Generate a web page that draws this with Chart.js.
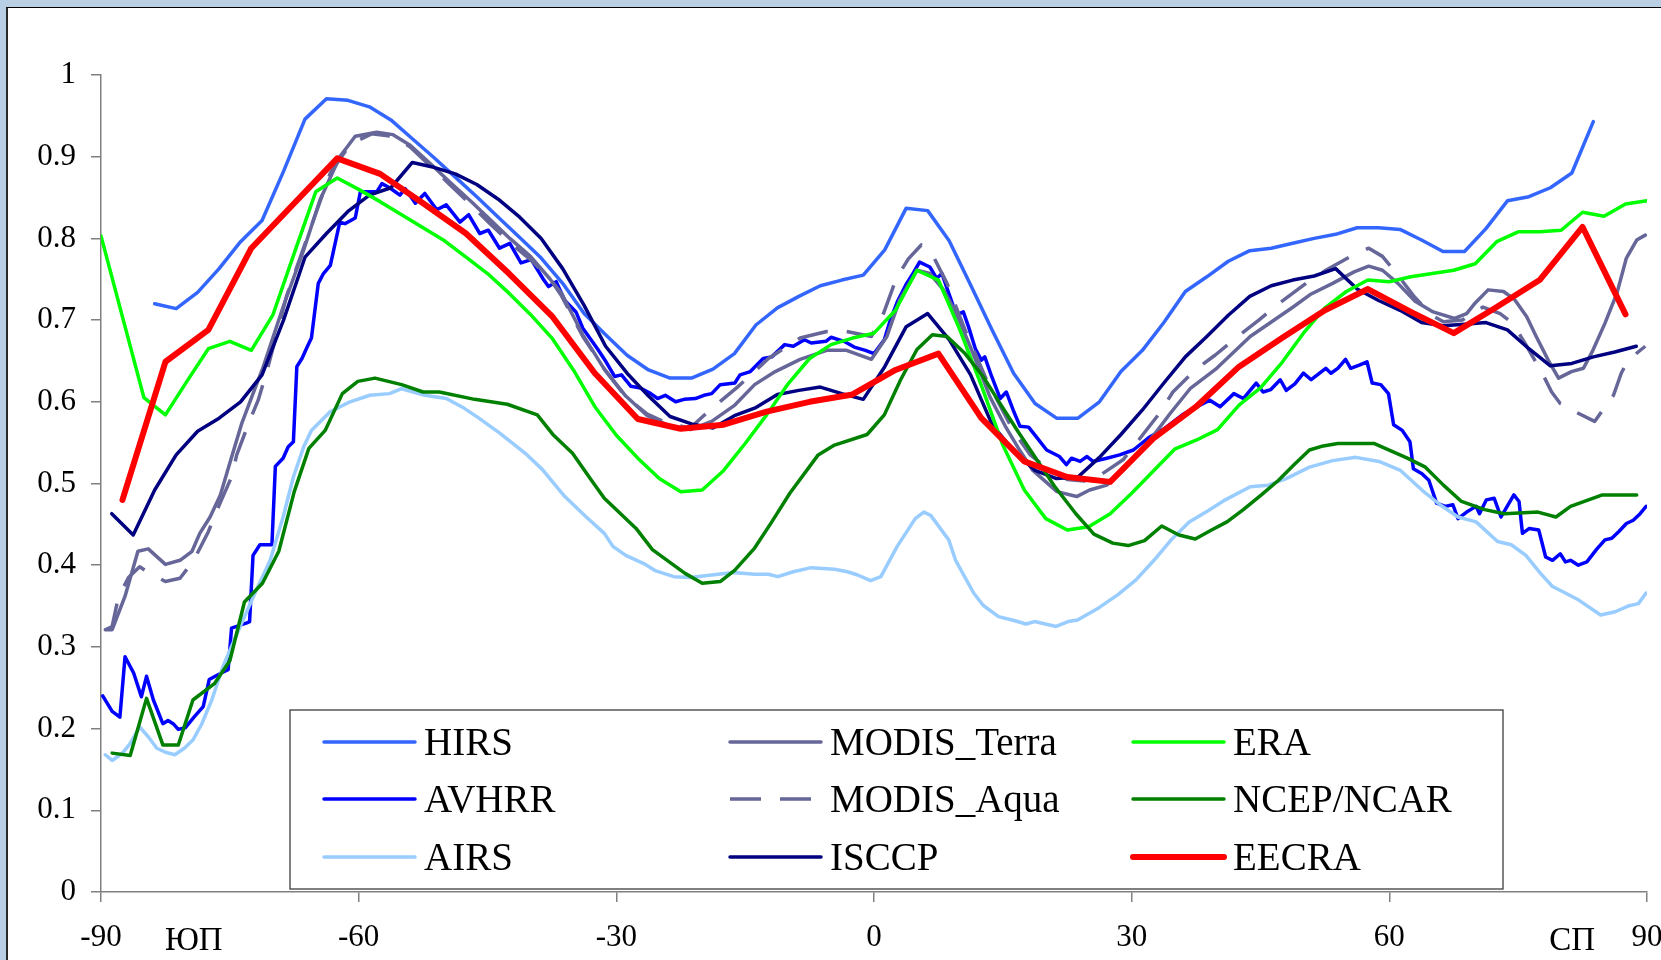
<!DOCTYPE html>
<html>
<head>
<meta charset="utf-8">
<script src="https://cdn.jsdelivr.net/npm/chart.js@4.4.1/dist/chart.umd.min.js"></script>
<style>
  html, body { margin: 0; padding: 0; background: #b9cfe4; overflow: hidden; }
  #panel { position: absolute; left: 6px; top: 7px; width: 1700px; height: 1000px; background: #fff;
           border-top: 1px solid #000; border-left: 2px solid #2a2a2a; }
  #c { position: absolute; left: 0; top: 0; }
</style>
</head>
<body>
<div id="panel"></div>
<canvas id="c" width="1661" height="960"></canvas>
<script>
// Zonal-mean total cloud fraction by latitude, several data sets.

const xTicks = [-90, -60, -30, 0, 30, 60, 90];
const poleNames = ['ЮП', 'СП'];
const poleLats = [-79.2, 81.3];

const hirsLat = [
  -83.75, -81.25, -78.75, -76.25, -73.75, -71.25, -68.75, -66.25, -63.75, -61.25,
  -58.75, -56.25, -53.75, -51.25, -48.75, -46.25, -43.75, -41.25, -38.75, -36.25,
  -33.75, -31.25, -28.75, -26.25, -23.75, -21.25, -18.75, -16.25, -13.75, -11.25,
  -8.75, -6.25, -3.75, -1.25, 1.25, 3.75, 6.25, 8.75, 11.25, 13.75,
  16.25, 18.75, 21.25, 23.75, 26.25, 28.75, 31.25, 33.75, 36.25, 38.75,
  41.25, 43.75, 46.25, 48.75, 51.25, 53.75, 56.25, 58.75, 61.25, 63.75,
  66.25, 68.75, 71.25, 73.75, 76.25, 78.75, 81.25, 83.75];
const hirsVal = [
  0.720, 0.714, 0.734, 0.763, 0.796, 0.822, 0.882, 0.946, 0.971, 0.969,
  0.961, 0.945, 0.922, 0.899, 0.875, 0.851, 0.826, 0.801, 0.776, 0.745,
  0.708, 0.682, 0.657, 0.639, 0.629, 0.629, 0.640, 0.659, 0.694, 0.715,
  0.729, 0.742, 0.749, 0.755, 0.786, 0.837, 0.834, 0.797, 0.743, 0.688,
  0.635, 0.598, 0.580, 0.580, 0.600, 0.637, 0.663, 0.697, 0.735, 0.753,
  0.772, 0.785, 0.788, 0.794, 0.800, 0.805, 0.813, 0.813, 0.811, 0.798,
  0.784, 0.784, 0.812, 0.846, 0.851, 0.862, 0.880, 0.943];

const avhrrLat = [
  -89.8, -88.7, -87.8, -87.2, -86.2, -85.3, -84.7, -83.9, -82.8, -82.2,
  -81.6, -81.0, -80.2, -79.1, -78.1, -77.4, -76.0, -75.2, -74.8, -73.1,
  -72.7, -72.3, -71.5, -70.1, -69.7, -68.8, -68.2, -67.6, -67.2, -66.6,
  -66.0, -65.5, -64.7, -64.1, -63.3, -62.2, -61.6, -60.4, -59.8, -57.9,
  -57.3, -56.4, -55.2, -54.6, -53.4, -52.3, -50.9, -49.8, -48.2, -47.2,
  -45.9, -44.9, -43.6, -42.4, -41.1, -39.9, -38.5, -37.9, -37.0, -36.0,
  -34.7, -33.9, -32.2, -31.2, -30.2, -29.4, -28.3, -27.2, -26.0, -25.2,
  -24.3, -23.1, -22.1, -20.8, -19.8, -18.9, -17.9, -16.2, -15.6, -14.4,
  -12.9, -11.9, -10.4, -9.4, -8.1, -7.3, -5.6, -5.0, -3.5, -2.3,
  -1.0, 0.0, 1.2, 1.9, 2.7, 3.7, 4.6, 5.3, 6.5, 7.3,
  7.9, 8.7, 9.6, 10.4, 11.0, 11.8, 12.5, 12.9, 13.7, 14.7,
  15.4, 16.2, 17.0, 18.0, 18.9, 20.1, 21.6, 22.4, 23.0, 24.0,
  24.8, 25.5, 27.1, 28.6, 30.2, 32.1, 33.8, 35.9, 37.2, 39.1,
  40.3, 41.9, 43.0, 44.5, 45.3, 46.2, 47.3, 48.0, 49.0, 50.0,
  50.9, 52.6, 53.2, 54.0, 54.9, 55.5, 56.5, 57.4, 58.0, 59.0,
  59.9, 60.5, 61.5, 62.4, 62.8, 63.8, 64.6, 65.5, 66.5, 67.4,
  68.0, 69.0, 70.1, 70.5, 71.3, 72.2, 73.0, 73.6, 74.5, 75.1,
  75.5, 76.3, 77.4, 78.2, 79.0, 79.9, 80.5, 81.1, 82.0, 83.0,
  84.1, 85.1, 85.9, 86.7, 87.6, 88.4, 89.2, 89.9];
const avhrrVal = [
  0.240, 0.221, 0.214, 0.288, 0.268, 0.239, 0.264, 0.235, 0.206, 0.210,
  0.206, 0.199, 0.201, 0.215, 0.227, 0.260, 0.268, 0.272, 0.323, 0.329,
  0.331, 0.412, 0.425, 0.425, 0.521, 0.531, 0.545, 0.551, 0.643, 0.653,
  0.667, 0.678, 0.745, 0.757, 0.767, 0.820, 0.818, 0.825, 0.857, 0.857,
  0.867, 0.862, 0.853, 0.861, 0.843, 0.855, 0.835, 0.841, 0.820, 0.829,
  0.806, 0.810, 0.788, 0.794, 0.770, 0.774, 0.750, 0.741, 0.747, 0.724,
  0.710, 0.690, 0.665, 0.649, 0.631, 0.633, 0.619, 0.617, 0.610, 0.604,
  0.608, 0.600, 0.603, 0.604, 0.608, 0.610, 0.621, 0.623, 0.633, 0.637,
  0.653, 0.655, 0.670, 0.668, 0.676, 0.672, 0.674, 0.679, 0.674, 0.667,
  0.663, 0.659, 0.676, 0.700, 0.722, 0.743, 0.758, 0.771, 0.765, 0.751,
  0.757, 0.733, 0.706, 0.710, 0.692, 0.665, 0.651, 0.655, 0.631, 0.604,
  0.612, 0.590, 0.570, 0.569, 0.557, 0.541, 0.533, 0.523, 0.531, 0.527,
  0.533, 0.527, 0.531, 0.535, 0.541, 0.557, 0.567, 0.584, 0.592, 0.602,
  0.594, 0.610, 0.604, 0.623, 0.612, 0.615, 0.627, 0.614, 0.622, 0.635,
  0.627, 0.641, 0.635, 0.641, 0.652, 0.641, 0.645, 0.649, 0.623, 0.621,
  0.610, 0.572, 0.565, 0.551, 0.518, 0.512, 0.504, 0.476, 0.472, 0.474,
  0.457, 0.465, 0.472, 0.463, 0.480, 0.482, 0.459, 0.470, 0.486, 0.478,
  0.439, 0.445, 0.443, 0.410, 0.406, 0.414, 0.404, 0.406, 0.400, 0.404,
  0.419, 0.431, 0.433, 0.441, 0.451, 0.455, 0.463, 0.472];

const airsLat = [
  -89.5, -88.7, -87.5, -86.6, -85.5, -84.5, -83.5, -82.5, -81.4, -80.3,
  -79.3, -78.3, -77.1, -75.8, -73.8, -71.9, -70.3, -68.8, -67.6, -66.4,
  -65.5, -63.3, -61.0, -58.7, -56.4, -55.0, -52.3, -49.8, -47.7, -46.0,
  -43.5, -40.6, -38.6, -36.0, -33.5, -31.4, -30.4, -28.9, -26.8, -25.4,
  -23.3, -21.4, -18.9, -16.4, -13.9, -12.3, -11.2, -9.4, -7.3, -4.6,
  -3.1, -1.9, -0.4, 0.8, 2.7, 4.8, 5.8, 6.6, 8.7, 9.5,
  11.6, 12.7, 14.5, 16.4, 17.7, 18.7, 21.2, 22.6, 23.7, 26.2,
  28.4, 30.5, 32.6, 34.6, 36.7, 38.8, 40.9, 43.8, 45.9, 48.0,
  50.7, 53.4, 56.1, 58.8, 61.3, 63.8, 65.9, 68.0, 70.1, 72.6,
  74.2, 75.9, 77.6, 79.0, 80.5, 82.1, 84.6, 86.3, 87.8, 89.0, 89.9];
const airsVal = [
  0.168, 0.161, 0.170, 0.182, 0.202, 0.190, 0.176, 0.171, 0.168, 0.176,
  0.186, 0.205, 0.235, 0.276, 0.325, 0.370, 0.406, 0.459, 0.508, 0.545,
  0.565, 0.588, 0.600, 0.608, 0.610, 0.616, 0.608, 0.604, 0.592, 0.580,
  0.561, 0.537, 0.517, 0.484, 0.459, 0.439, 0.423, 0.412, 0.402, 0.393,
  0.386, 0.385, 0.388, 0.391, 0.389, 0.389, 0.386, 0.392, 0.397, 0.395,
  0.392, 0.388, 0.381, 0.386, 0.423, 0.457, 0.465, 0.461, 0.431, 0.406,
  0.366, 0.351, 0.337, 0.332, 0.328, 0.331, 0.325, 0.331, 0.333, 0.348,
  0.364, 0.382, 0.406, 0.431, 0.453, 0.466, 0.480, 0.496, 0.498, 0.506,
  0.520, 0.528, 0.532, 0.527, 0.516, 0.492, 0.474, 0.459, 0.453, 0.429,
  0.425, 0.412, 0.390, 0.374, 0.366, 0.357, 0.339, 0.343, 0.350, 0.353, 0.366];

const terraLat = [
  -89.5, -88.7, -87.2, -85.7, -84.5, -82.5, -80.8, -79.4, -78.5, -77.3,
  -76.1, -75.0, -73.6, -72.3, -71.1, -68.8, -66.4, -64.5, -62.2, -60.4,
  -57.9, -56.0, -54.0, -51.7, -49.4, -47.0, -44.7, -42.4, -40.0, -37.7,
  -36.4, -33.9, -31.4, -28.9, -26.4, -23.9, -21.4, -18.9, -16.2, -13.9,
  -11.5, -8.6, -5.5, -3.2, -0.3, 1.5, 3.0, 5.0, 6.5, 8.1,
  9.6, 11.5, 13.5, 15.4, 17.0, 18.5, 21.3, 23.6, 25.1, 27.1,
  29.0, 31.7, 34.5, 36.8, 39.9, 43.8, 46.3, 48.8, 50.9, 53.4,
  55.9, 57.6, 59.2, 61.0, 63.0, 65.1, 67.6, 69.0, 70.0, 71.5,
  73.3, 74.6, 76.0, 77.1, 78.5, 79.7, 81.2, 82.6, 83.7, 85.1,
  86.5, 87.6, 88.8, 89.8];
const terraVal = [
  0.321, 0.321, 0.362, 0.417, 0.420, 0.401, 0.406, 0.417, 0.439, 0.459,
  0.486, 0.525, 0.574, 0.610, 0.643, 0.716, 0.786, 0.847, 0.900, 0.925,
  0.930, 0.927, 0.914, 0.892, 0.869, 0.846, 0.823, 0.800, 0.778, 0.750,
  0.733, 0.682, 0.640, 0.607, 0.583, 0.571, 0.566, 0.576, 0.596, 0.621,
  0.637, 0.652, 0.663, 0.663, 0.652, 0.680, 0.725, 0.761, 0.757, 0.737,
  0.708, 0.660, 0.606, 0.568, 0.540, 0.516, 0.490, 0.484, 0.492, 0.498,
  0.516, 0.547, 0.586, 0.616, 0.641, 0.680, 0.698, 0.716, 0.732, 0.745,
  0.759, 0.766, 0.761, 0.745, 0.723, 0.710, 0.702, 0.708, 0.721, 0.737,
  0.735, 0.725, 0.704, 0.680, 0.651, 0.629, 0.637, 0.641, 0.663, 0.696,
  0.733, 0.776, 0.798, 0.804];

const aquaLat = [
  -89.5, -88.7, -88.0, -86.8, -85.5, -84.3, -82.5, -80.8, -79.2, -77.5,
  -76.3, -74.8, -74.2, -72.8, -71.7, -70.7, -68.4, -67.2, -64.1, -63.3,
  -61.0, -58.5, -56.0, -54.0, -51.7, -49.4, -47.0, -44.7, -42.4, -40.0,
  -37.7, -36.4, -33.9, -31.4, -28.9, -26.4, -23.9, -21.4, -19.1, -16.0,
  -14.1, -12.3, -8.6, -5.5, -3.2, -0.3, 1.1, 2.6, 4.0, 5.5,
  6.9, 8.5, 9.6, 10.6, 13.1, 16.2, 18.2, 20.2, 22.5, 24.5,
  26.3, 29.0, 30.8, 33.1, 34.8, 37.4, 39.7, 42.6, 44.8, 47.1,
  50.3, 52.6, 55.5, 57.6, 59.2, 61.0, 62.8, 64.9, 66.3, 68.5,
  70.9, 72.9, 74.4, 76.0, 77.7, 78.9, 79.9, 80.6, 81.6, 83.9,
  86.1, 87.0, 87.8, 89.8];
const aquaVal = [
  0.321, 0.325, 0.360, 0.385, 0.398, 0.390, 0.380, 0.384, 0.406, 0.441,
  0.472, 0.508, 0.535, 0.574, 0.602, 0.637, 0.729, 0.765, 0.857, 0.880,
  0.915, 0.928, 0.925, 0.912, 0.889, 0.866, 0.842, 0.818, 0.795, 0.774,
  0.750, 0.730, 0.680, 0.640, 0.606, 0.585, 0.573, 0.568, 0.590, 0.617,
  0.635, 0.653, 0.678, 0.686, 0.686, 0.680, 0.708, 0.751, 0.775, 0.792,
  0.778, 0.745, 0.715, 0.688, 0.627, 0.565, 0.535, 0.518, 0.505, 0.503,
  0.510, 0.529, 0.553, 0.584, 0.612, 0.639, 0.657, 0.682, 0.700, 0.720,
  0.745, 0.761, 0.778, 0.788, 0.778, 0.755, 0.730, 0.706, 0.698, 0.700,
  0.716, 0.708, 0.696, 0.668, 0.637, 0.612, 0.598, 0.596, 0.588, 0.576,
  0.608, 0.635, 0.651, 0.668];

const isccpLat = [
  -88.75, -86.25, -83.75, -81.25, -78.75, -76.25, -73.75, -71.25, -68.75, -66.25,
  -63.75, -61.25, -58.75, -56.25, -53.75, -51.25, -48.75, -46.25, -43.75, -41.25,
  -38.75, -36.25, -33.75, -31.25, -28.75, -26.25, -23.75, -21.25, -18.75, -16.25,
  -13.75, -11.25, -8.75, -6.25, -3.75, -1.25, 1.25, 3.75, 6.25, 8.75,
  11.25, 13.75, 16.25, 18.75, 21.25, 23.75, 26.25, 28.75, 31.25, 33.75,
  36.25, 38.75, 41.25, 43.75, 46.25, 48.75, 51.25, 53.75, 56.25, 58.75,
  61.25, 63.75, 66.25, 68.75, 71.25, 73.75, 76.25, 78.75, 81.25, 83.75,
  86.25, 88.75];
const isccpVal = [
  0.463, 0.437, 0.492, 0.535, 0.564, 0.580, 0.600, 0.633, 0.700, 0.777,
  0.806, 0.833, 0.853, 0.862, 0.893, 0.887, 0.879, 0.866, 0.848, 0.826,
  0.800, 0.763, 0.718, 0.668, 0.635, 0.607, 0.582, 0.573, 0.568, 0.583,
  0.593, 0.609, 0.614, 0.618, 0.610, 0.603, 0.643, 0.692, 0.708, 0.676,
  0.633, 0.572, 0.540, 0.516, 0.506, 0.508, 0.532, 0.560, 0.590, 0.623,
  0.655, 0.680, 0.706, 0.729, 0.742, 0.749, 0.754, 0.763, 0.738, 0.724,
  0.712, 0.697, 0.693, 0.695, 0.697, 0.688, 0.665, 0.644, 0.647, 0.655,
  0.661, 0.668];

const eraLat = [
  -90, -87.5, -85, -82.5, -80, -77.5, -75, -72.5, -70, -67.5,
  -65, -62.5, -60, -57.5, -55, -52.5, -50, -47.5, -45, -42.5,
  -40, -37.5, -35, -32.5, -30, -27.5, -25, -22.5, -20, -17.5,
  -15, -12.5, -10, -7.5, -5, -2.5, 0, 2.5, 5, 7.5,
  10, 12.5, 15, 17.5, 20, 22.5, 25, 27.5, 30, 32.5,
  35, 37.5, 40, 42.5, 45, 47.5, 50, 52.5, 55, 57.5,
  60, 62.5, 65, 67.5, 70, 72.5, 75, 77.5, 80, 82.5,
  85, 87.5, 90];
const eraVal = [
  0.803, 0.704, 0.605, 0.584, 0.625, 0.665, 0.674, 0.663, 0.706, 0.782,
  0.857, 0.874, 0.860, 0.845, 0.829, 0.813, 0.797, 0.777, 0.757, 0.733,
  0.707, 0.678, 0.639, 0.594, 0.559, 0.531, 0.506, 0.490, 0.492, 0.516,
  0.549, 0.584, 0.622, 0.653, 0.670, 0.678, 0.684, 0.712, 0.761, 0.749,
  0.688, 0.620, 0.547, 0.492, 0.457, 0.443, 0.447, 0.463, 0.488, 0.515,
  0.542, 0.553, 0.566, 0.596, 0.617, 0.648, 0.684, 0.715, 0.735, 0.749,
  0.747, 0.753, 0.757, 0.761, 0.769, 0.796, 0.808, 0.808, 0.810, 0.832,
  0.827, 0.842, 0.846];

const ncepLat = [
  -88.7, -86.6, -84.7, -82.8, -81.0, -79.3, -76.8, -75.0, -73.3, -71.2,
  -69.3, -67.5, -65.8, -63.9, -61.9, -60.1, -58.1, -55.0, -52.5, -50.6,
  -46.5, -42.7, -39.2, -37.3, -35.1, -32.9, -31.4, -27.7, -25.8, -22.0,
  -20.0, -17.9, -16.2, -13.9, -11.9, -9.8, -6.5, -4.6, -0.8, 1.2,
  3.1, 5.0, 6.8, 8.5, 10.6, 12.7, 14.8, 16.8, 18.9, 21.0,
  23.5, 25.6, 27.8, 29.6, 31.5, 33.5, 35.5, 37.4, 39.3, 41.1,
  43.0, 45.1, 47.1, 48.9, 50.7, 52.3, 54.0, 58.2, 62.1, 64.2,
  66.3, 68.4, 71.1, 73.4, 77.3, 79.4, 81.1, 84.8, 88.8];
const ncepVal = [
  0.170, 0.167, 0.237, 0.180, 0.180, 0.235, 0.255, 0.283, 0.355, 0.378,
  0.417, 0.490, 0.543, 0.565, 0.610, 0.625, 0.629, 0.621, 0.612, 0.612,
  0.603, 0.597, 0.584, 0.559, 0.537, 0.504, 0.482, 0.445, 0.419, 0.390,
  0.378, 0.380, 0.394, 0.421, 0.453, 0.488, 0.535, 0.547, 0.560, 0.584,
  0.627, 0.664, 0.682, 0.680, 0.659, 0.631, 0.596, 0.563, 0.530, 0.497,
  0.463, 0.438, 0.427, 0.424, 0.430, 0.448, 0.437, 0.432, 0.443, 0.453,
  0.468, 0.486, 0.504, 0.523, 0.541, 0.546, 0.549, 0.549, 0.531, 0.520,
  0.498, 0.478, 0.468, 0.463, 0.465, 0.459, 0.472, 0.486, 0.486];

const eecraLat = [
  -87.5, -82.5, -77.5, -72.5, -67.5, -62.5, -57.5, -52.5, -47.5, -42.5,
  -37.5, -32.5, -27.5, -22.5, -17.5, -12.5, -7.5, -2.5, 2.5, 7.5,
  12.5, 17.5, 22.5, 27.5, 32.5, 37.5, 42.5, 47.5, 52.5, 57.5,
  62.5, 67.5, 72.5, 77.5, 82.5, 87.5];
const eecraVal = [
  0.480, 0.649, 0.688, 0.788, 0.843, 0.898, 0.879, 0.843, 0.806, 0.757,
  0.705, 0.635, 0.579, 0.567, 0.572, 0.588, 0.600, 0.609, 0.639, 0.659,
  0.580, 0.527, 0.508, 0.502, 0.555, 0.594, 0.643, 0.678, 0.712, 0.738,
  0.710, 0.684, 0.716, 0.749, 0.814, 0.707];

const seriesNames = ['HIRS', 'AVHRR', 'AIRS', 'MODIS_Terra', 'MODIS_Aqua', 'ISCCP', 'ERA', 'NCEP/NCAR', 'EECRA'];
const seriesLats = [hirsLat, avhrrLat, airsLat, terraLat, aquaLat, isccpLat, eraLat, ncepLat, eecraLat];
const seriesVals = [hirsVal, avhrrVal, airsVal, terraVal, aquaVal, isccpVal, eraVal, ncepVal, eecraVal];
const seriesColors = ['#3366ff', '#0000ff', '#99ccff', '#666699', '#666699', '#000080', '#00ff00', '#008000', '#ff0000'];
const seriesWidths = [3.5, 3.5, 3.5, 3.5, 3.5, 3.5, 3.5, 3.5, 6];

const SERIF = "'Liberation Serif', 'Times New Roman', serif";

const datasets = seriesNames.map((name, i) => ({
  label: name,
  data: seriesLats[i].map((lat, k) => ({ x: lat, y: seriesVals[i][k] })),
  borderColor: seriesColors[i],
  backgroundColor: seriesColors[i],
  borderWidth: seriesWidths[i],
  borderDash: name === 'MODIS_Aqua' ? [31, 19] : [],
  borderCapStyle: name === 'MODIS_Aqua' ? 'butt' : 'round',
  borderJoinStyle: 'round',
  pointRadius: 0,
  tension: 0,
  fill: false,
  order: seriesNames.length - 1 - i
}));

// Boxed legend laid out column by column (three rows per column)
const gridLegend = {
  id: 'gridLegend',
  afterDatasetsDraw(chart, args, o) {
    const ctx = chart.ctx;
    ctx.save();
    ctx.fillStyle = '#ffffff';
    ctx.fillRect(o.left, o.top, o.width, o.height);
    ctx.strokeStyle = '#3c3c3c';
    ctx.lineWidth = 1.3;
    ctx.strokeRect(o.left, o.top, o.width, o.height);
    ctx.font = o.fontSize + 'px ' + SERIF;
    ctx.textBaseline = 'alphabetic';
    ctx.textAlign = 'left';
    chart.data.datasets.forEach((ds, i) => {
      const col = Math.floor(i / o.rows.length);
      const row = i % o.rows.length;
      const x0 = o.left + o.columns[col];
      const y = o.top + o.rows[row];
      ctx.beginPath();
      ctx.setLineDash(ds.borderDash || []);
      ctx.lineCap = ds.borderCapStyle;
      ctx.lineWidth = ds.borderWidth;
      ctx.strokeStyle = ds.borderColor;
      ctx.moveTo(x0, y);
      ctx.lineTo(x0 + o.lineLength, y);
      ctx.stroke();
      ctx.setLineDash([]);
      ctx.fillStyle = '#000';
      ctx.fillText(ds.label, x0 + o.lineLength + o.textGap, y + o.capOffset);
    });
    ctx.restore();
  }
};

// Pole names under the latitude axis
const poleLabels = {
  id: 'poleLabels',
  afterDraw(chart, args, o) {
    const ctx = chart.ctx;
    const xs = chart.scales.x;
    ctx.save();
    ctx.font = o.fontSize + 'px ' + SERIF;
    ctx.fillStyle = '#000';
    ctx.textAlign = 'center';
    ctx.textBaseline = 'middle';
    poleNames.forEach((t, i) => ctx.fillText(t, xs.getPixelForValue(poleLats[i]), xs.top + o.offset));
    ctx.restore();
  }
};

new Chart(document.getElementById('c'), {
  type: 'line',
  data: { datasets },
  options: {
    responsive: false,
    animation: false,
    devicePixelRatio: 1,
    layout: { padding: { left: 0, right: 14, top: 75, bottom: 0 }, autoPadding: false },
    plugins: {
      legend: { display: false },
      tooltip: { enabled: false },
      gridLegend: {
        left: 290, top: 710, width: 1213, height: 179,
        columns: [34, 440, 843], rows: [32, 89, 147],
        lineLength: 91, textGap: 9, capOffset: 13, fontSize: 39
      },
      poleLabels: { fontSize: 33, offset: 49 }
    },
    scales: {
      x: {
        type: 'linear', min: -90, max: 90,
        afterBuildTicks: s => { s.ticks = xTicks.map(v => ({ value: v })); },
        ticks: { color: '#000', font: { family: SERIF, size: 31 }, padding: 17, maxRotation: 0, autoSkip: false,
                 callback: v => String(v) },
        grid: { drawOnChartArea: false, drawTicks: true, tickLength: 10, color: '#808080', lineWidth: 1.5 },
        border: { color: '#808080', width: 1.5 },
        afterFit: s => { s.height = 68; s.paddingLeft = 0; s.paddingRight = 0; }
      },
      y: {
        min: 0, max: 1,
        ticks: { stepSize: 0.1, color: '#000', font: { family: SERIF, size: 31 }, padding: 15,
                 callback: v => String(Math.round(v * 10) / 10) },
        grid: { drawOnChartArea: false, drawTicks: true, tickLength: 10, color: '#808080', lineWidth: 1.5 },
        border: { color: '#808080', width: 1.5 },
        afterFit: s => { s.width = 101; s.paddingTop = 0; s.paddingBottom = 0; }
      }
    }
  },
  plugins: [gridLegend, poleLabels]
});
</script>
</body>
</html>
